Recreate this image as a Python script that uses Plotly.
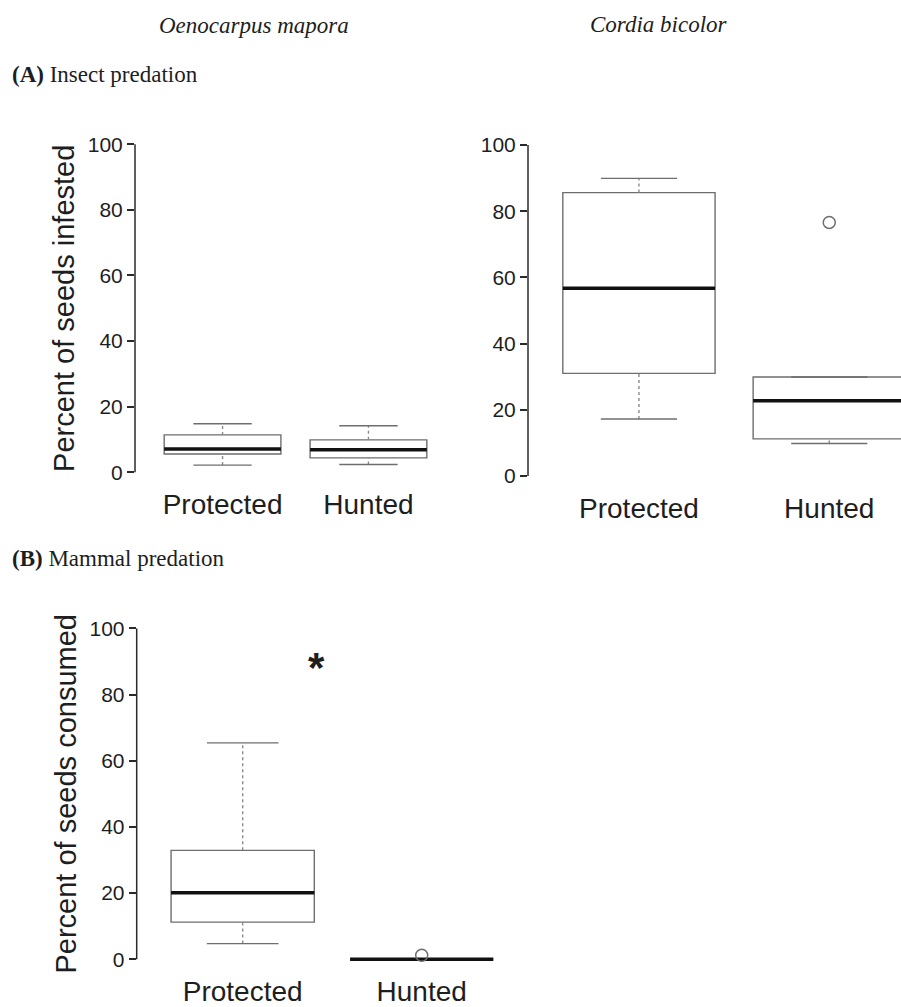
import plotly.graph_objects as go

W, H = 901, 1007

# ---------------- data ----------------
categories = ["Protected", "Hunted"]
cat_pos = [1, 2]
y_ticks = [0, 20, 40, 60, 80, 100]

# (A) Insect predation - Oenocarpus mapora
oeno_ins_low = [2.2, 2.4]
oeno_ins_q1 = [5.6, 4.4]
oeno_ins_med = [7.1, 6.9]
oeno_ins_q3 = [11.4, 9.9]
oeno_ins_high = [14.8, 14.2]
oeno_ins_out_pos = []
oeno_ins_out_val = []

# (A) Insect predation - Cordia bicolor
cord_ins_low = [17.2, 9.8]
cord_ins_q1 = [31.0, 11.2]
cord_ins_med = [56.7, 22.7]
cord_ins_q3 = [85.6, 29.9]
cord_ins_high = [89.9, 29.9]
cord_ins_out_pos = [2]
cord_ins_out_val = [76.6]

# (B) Mammal predation - Oenocarpus mapora
oeno_mam_low = [4.7, 0.0]
oeno_mam_q1 = [11.2, 0.0]
oeno_mam_med = [20.1, 0.0]
oeno_mam_q3 = [32.9, 0.0]
oeno_mam_high = [65.4, 0.0]
oeno_mam_out_pos = [2]
oeno_mam_out_val = [1.2]

signif_pos = 1.41
signif_val = 91

# ---------------- style ----------------
BOX = "#6e6e6e"
AX = "#2a2a2a"
TXT = "#1e1e1e"
SANS = "Liberation Sans, Arial, sans-serif"
SERIF = "Liberation Serif, Times New Roman, serif"
BOXW = 0.8
CAPW = 0.4


def px_x(p):
    return p / W


def px_y(p):
    return 1 - p / H


fig = go.Figure()


def add_panel(n, low, q1, med, q3, high, out_pos, out_val):
    xa = "x" if n == 1 else f"x{n}"
    ya = "y" if n == 1 else f"y{n}"
    fig.add_trace(go.Box(
        x=cat_pos, q1=q1, median=med, q3=q3, lowerfence=q1, upperfence=q3,
        width=BOXW, fillcolor="white", line=dict(color=BOX, width=1.4),
        boxpoints=False, hoverinfo="skip", xaxis=xa, yaxis=ya))
    wx, wy, cx, cy, mx, my = [], [], [], [], [], []
    for p, lo, a, m, b, hi in zip(cat_pos, low, q1, med, q3, high):
        wx += [p, p, None, p, p, None]
        wy += [b, hi, None, lo, a, None]
        cx += [p - CAPW / 2, p + CAPW / 2, None, p - CAPW / 2, p + CAPW / 2, None]
        cy += [hi, hi, None, lo, lo, None]
        mx += [p - BOXW / 2, p + BOXW / 2, None]
        my += [m, m, None]
    fig.add_trace(go.Scatter(x=wx, y=wy, mode="lines", xaxis=xa, yaxis=ya,
                             line=dict(color="#8a8a8a", width=1.4, dash="3px,3px"),
                             hoverinfo="skip"))
    fig.add_trace(go.Scatter(x=cx, y=cy, mode="lines", xaxis=xa, yaxis=ya,
                             line=dict(color=BOX, width=1.4), hoverinfo="skip"))
    fig.add_trace(go.Scatter(x=mx, y=my, mode="lines", xaxis=xa, yaxis=ya,
                             line=dict(color="#111111", width=3.5), hoverinfo="skip"))
    if out_pos:
        fig.add_trace(go.Scatter(x=out_pos, y=out_val, mode="markers", xaxis=xa, yaxis=ya,
                                 marker=dict(symbol="circle-open", size=12,
                                             color=BOX, line=dict(width=1.5)),
                                 hoverinfo="skip"))
    # R-style y axis line from 0 to 100 only
    fig.add_shape(type="line", xref=f"{xa} domain", yref=ya, x0=0, x1=0,
                  y0=y_ticks[0], y1=y_ticks[-1], line=dict(color=AX, width=1.5))


add_panel(1, oeno_ins_low, oeno_ins_q1, oeno_ins_med, oeno_ins_q3, oeno_ins_high,
          oeno_ins_out_pos, oeno_ins_out_val)
add_panel(2, cord_ins_low, cord_ins_q1, cord_ins_med, cord_ins_q3, cord_ins_high,
          cord_ins_out_pos, cord_ins_out_val)
add_panel(3, oeno_mam_low, oeno_mam_q1, oeno_mam_med, oeno_mam_q3, oeno_mam_high,
          oeno_mam_out_pos, oeno_mam_out_val)


def yax(top_px, bot_px, title, anchor):
    return dict(range=[-4, 104], domain=[px_y(bot_px), px_y(top_px)], anchor=anchor,
                tickvals=y_ticks, ticks="outside", ticklen=7, tickwidth=1.5,
                tickcolor=AX, showgrid=False, zeroline=False, showline=False,
                tickfont=dict(family=SANS, size=21, color=TXT),
                title=dict(text=title, font=dict(family=SANS, size=29, color=TXT),
                           standoff=4))


def xax(left_px, right_px, rng, anchor):
    return dict(range=rng, domain=[px_x(left_px), px_x(right_px)], anchor=anchor,
                tickvals=cat_pos, ticktext=categories, ticks="", showgrid=False,
                zeroline=False, showline=False,
                tickfont=dict(family=SANS, size=28, color=TXT))


fig.update_layout(
    width=W, height=H, margin=dict(l=0, r=0, t=0, b=0),
    paper_bgcolor="white", plot_bgcolor="white", showlegend=False,
    xaxis=xax(135, 456, [0.40, 2.6], "y"),
    yaxis=yax(132.7, 491.3, "Percent of seeds infested", "x"),
    xaxis2=xax(528, 901, [0.417, 2.377], "y2"),
    yaxis2=yax(133.3, 495.1, None, "x2"),
    xaxis3=xax(136.7, 520, [0.408, 2.549], "y3"),
    yaxis3=yax(622.6, 984.1, "Percent of seeds consumed", "x3"),
)

fig.add_annotation(text="<i>Oenocarpus mapora</i>", xref="paper", yref="paper",
                   x=px_x(254), y=px_y(26), xanchor="center", yanchor="middle",
                   showarrow=False, font=dict(family=SERIF, size=23, color=TXT))
fig.add_annotation(text="<i>Cordia bicolor</i>", xref="paper", yref="paper",
                   x=px_x(659), y=px_y(25), xanchor="center", yanchor="middle",
                   showarrow=False, font=dict(family=SERIF, size=23, color=TXT))
fig.add_annotation(text="<b>(A)</b> Insect predation", xref="paper", yref="paper",
                   x=px_x(10), y=px_y(75), xanchor="left", yanchor="middle",
                   showarrow=False, font=dict(family=SERIF, size=23, color=TXT))
fig.add_annotation(text="<b>(B)</b> Mammal predation", xref="paper", yref="paper",
                   x=px_x(10), y=px_y(565), xanchor="left", yanchor="middle",
                   showarrow=False, font=dict(family=SERIF, size=23, color=TXT))
fig.add_annotation(text="<b>*</b>", xref="x3", yref="y3", x=signif_pos, y=signif_val,
                   xanchor="center", yanchor="middle", showarrow=False, yshift=-9,
                   font=dict(family=SANS, size=42, color=TXT))

fig.write_html("out.html", config={"displayModeBar": False},
               post_script="document.body.style.margin='0';")
